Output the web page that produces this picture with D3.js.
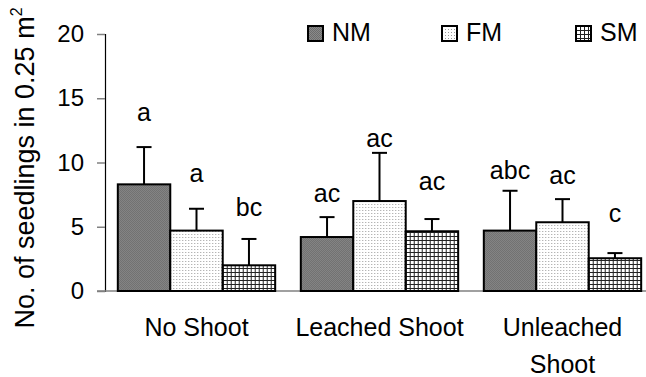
<!DOCTYPE html>
<html>
<head>
<meta charset="utf-8">
<script src="https://cdn.jsdelivr.net/npm/d3@7"></script>
<style>
  body { margin: 0; background: #fff; }
  svg { display: block; font-family: Arial, "Liberation Sans", sans-serif; }
</style>
</head>
<body>
<div id="chart-container"></div>
<script>
// data
const groups = ['No Shoot', 'Leached Shoot', 'Unleached Shoot'];
const series = ['NM', 'FM', 'SM'];
const nmValues = [8.3, 4.2, 4.7];
const fmValues = [4.7, 7.0, 5.35];
const smValues = [2.0, 4.65, 2.55];
const nmErrors = [2.9, 1.55, 3.1];
const fmErrors = [1.7, 3.75, 1.8];
const smErrors = [2.05, 0.95, 0.4];
const nmLetters = ['a', 'ac', 'abc'];
const fmLetters = ['a', 'ac', 'ac'];
const smLetters = ['bc', 'ac', 'c'];
// where the letters sit, in y units
const nmLetterY = [13.2, 6.9, 8.7];
const fmLetterY = [8.5, 11.2, 8.3];
const smLetterY = [5.85, 7.85, 5.35];
const yTicks = [0, 5, 10, 15, 20];

const values = { NM: nmValues, FM: fmValues, SM: smValues };
const errors = { NM: nmErrors, FM: fmErrors, SM: smErrors };
const letters = { NM: nmLetters, FM: fmLetters, SM: smLetters };
const letterY = { NM: nmLetterY, FM: fmLetterY, SM: smLetterY };

const rows = [];
groups.forEach((g, i) => {
  series.forEach(s => {
    rows.push({ group: g, series: s, value: values[s][i], err: errors[s][i], letter: letters[s][i], ly: letterY[s][i] });
  });
});

const width = 646, height = 377;
const svg = d3.select('#chart-container')
  .append('svg')
  .attr('width', width)
  .attr('height', height);

// patterns for the three fills
const defs = svg.append('defs');

const pNM = defs.append('pattern').attr('id', 'pat-NM')
  .attr('width', 2).attr('height', 2).attr('patternUnits', 'userSpaceOnUse');
pNM.append('rect').attr('width', 2).attr('height', 2).attr('fill', '#8a8a8a');
pNM.append('rect').attr('width', 1).attr('height', 1).attr('fill', '#6c6c6c');
pNM.append('rect').attr('x', 1).attr('y', 1).attr('width', 1).attr('height', 1).attr('fill', '#6c6c6c');

const pFM = defs.append('pattern').attr('id', 'pat-FM')
  .attr('width', 3).attr('height', 3).attr('patternUnits', 'userSpaceOnUse');
pFM.append('rect').attr('width', 3).attr('height', 3).attr('fill', '#fff');
pFM.append('rect').attr('width', 1).attr('height', 1).attr('fill', '#9a9a9a');

const pSM = defs.append('pattern').attr('id', 'pat-SM')
  .attr('width', 4).attr('height', 4).attr('patternUnits', 'userSpaceOnUse');
pSM.append('rect').attr('width', 4).attr('height', 4).attr('fill', '#fff');
pSM.append('rect').attr('width', 4).attr('height', 1).attr('fill', '#222');
pSM.append('rect').attr('width', 1).attr('height', 4).attr('fill', '#222');

const fill = d3.scaleOrdinal().domain(series).range(['url(#pat-NM)', 'url(#pat-FM)', 'url(#pat-SM)']);

// scales
const x0 = d3.scaleBand().domain(groups).range([105, 654]).paddingInner(0.14).paddingOuter(0.07);
const x1 = d3.scaleBand().domain(series).range([0, x0.bandwidth()]);
const y = d3.scaleLinear().domain([0, 20]).range([291, 34]);

// y axis
const yAxis = svg.append('g')
  .attr('transform', 'translate(105,0)')
  .call(d3.axisLeft(y).tickValues(yTicks).tickSize(8).tickPadding(13));
yAxis.select('.domain').attr('stroke', '#000').attr('stroke-width', 1.2);
yAxis.selectAll('.tick line').attr('stroke', '#808080').attr('stroke-width', 1.5);
yAxis.selectAll('.tick text').attr('font-size', 24).attr('fill', '#000')
  .attr('font-family', 'Arial, "Liberation Sans", sans-serif');

// x axis line
svg.append('line')
  .attr('x1', 97).attr('x2', width)
  .attr('y1', y(0)).attr('y2', y(0))
  .attr('stroke', '#808080').attr('stroke-width', 1.5);

// bars
const bar = svg.append('g').selectAll('g')
  .data(rows)
  .enter()
  .append('g')
  .attr('transform', d => `translate(${x0(d.group) + x1(d.series)},0)`);

bar.append('rect')
  .attr('y', d => y(d.value))
  .attr('width', x1.bandwidth())
  .attr('height', d => y(0) - y(d.value))
  .attr('fill', d => fill(d.series))
  .attr('stroke', '#000')
  .attr('stroke-width', 2);

// error bars (upper only)
const cx = x1.bandwidth() / 2;
bar.append('line')
  .attr('x1', cx).attr('x2', cx)
  .attr('y1', d => y(d.value))
  .attr('y2', d => y(d.value + d.err))
  .attr('stroke', '#000').attr('stroke-width', 2);
bar.append('line')
  .attr('x1', cx - 7.5).attr('x2', cx + 7.5)
  .attr('y1', d => y(d.value + d.err))
  .attr('y2', d => y(d.value + d.err))
  .attr('stroke', '#000').attr('stroke-width', 2);

// significance letters
bar.append('text')
  .attr('x', cx)
  .attr('y', d => y(d.ly))
  .attr('text-anchor', 'middle')
  .attr('font-size', 25)
  .text(d => d.letter);

// category labels
const cat = svg.append('g').selectAll('text')
  .data(groups)
  .enter()
  .append('text')
  .attr('x', d => x0(d) + x0.bandwidth() / 2)
  .attr('y', 336)
  .attr('text-anchor', 'middle')
  .attr('font-size', 25);

cat.each(function(d) {
  const t = d3.select(this);
  const lines = d === 'Unleached Shoot' ? ['Unleached', 'Shoot'] : [d];
  lines.forEach((l, i) => {
    t.append('tspan')
      .attr('x', x0(d) + x0.bandwidth() / 2)
      .attr('dy', i === 0 ? 0 : 37)
      .text(l);
  });
});

// y title
const title = svg.append('text')
  .attr('transform', 'translate(34,168) rotate(-90)')
  .attr('text-anchor', 'middle')
  .attr('font-size', 27);
title.append('tspan').text('No. of seedlings in 0.25 m');
title.append('tspan').attr('font-size', 16).attr('dy', -12).text('2');

// legend
const legend = svg.append('g').selectAll('g')
  .data(series)
  .enter()
  .append('g')
  .attr('transform', (d, i) => `translate(${308 + i * 134},26)`);

legend.append('rect')
  .attr('width', 15).attr('height', 15)
  .attr('fill', d => fill(d))
  .attr('stroke', '#000').attr('stroke-width', 2);

legend.append('text')
  .attr('x', 24).attr('y', 15)
  .attr('font-size', 25)
  .text(d => d);
</script>
</body>
</html>
